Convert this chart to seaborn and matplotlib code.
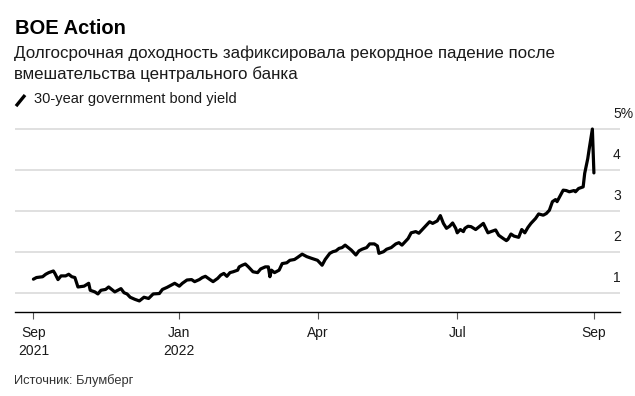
import numpy as np
import pandas as pd
import matplotlib
matplotlib.use('Agg')
import matplotlib.pyplot as plt
import matplotlib.transforms as mtransforms
from matplotlib.lines import Line2D
import seaborn as sns

# 30-year gilt yield
dates = [
    '2021-09-28', '2021-09-30', '2021-10-04', '2021-10-06', '2021-10-08', '2021-10-11',
    '2021-10-12', '2021-10-14', '2021-10-16', '2021-10-19', '2021-10-21', '2021-10-23',
    '2021-10-25', '2021-10-27', '2021-10-31', '2021-11-03', '2021-11-04', '2021-11-07',
    '2021-11-09', '2021-11-11', '2021-11-14', '2021-11-16', '2021-11-18', '2021-11-20',
    '2021-11-24', '2021-11-26', '2021-11-28', '2021-11-30', '2021-12-03', '2021-12-06',
    '2021-12-09', '2021-12-12', '2021-12-15', '2021-12-19', '2021-12-21', '2021-12-24',
    '2021-12-27', '2021-12-29', '2022-01-01', '2022-01-03', '2022-01-06', '2022-01-09',
    '2022-01-11', '2022-01-14', '2022-01-16', '2022-01-18', '2022-01-21', '2022-01-23',
    '2022-01-26', '2022-01-28', '2022-01-30', '2022-02-01', '2022-02-03', '2022-02-05',
    '2022-02-08', '2022-02-09', '2022-02-11', '2022-02-13', '2022-02-15', '2022-02-18',
    '2022-02-21', '2022-02-23', '2022-02-26', '2022-02-28', '2022-03-01', '2022-03-02',
    '2022-03-04', '2022-03-07', '2022-03-09', '2022-03-12', '2022-03-14', '2022-03-17',
    '2022-03-19', '2022-03-22', '2022-03-25', '2022-03-28', '2022-04-01', '2022-04-04',
    '2022-04-06', '2022-04-09', '2022-04-11', '2022-04-13', '2022-04-15', '2022-04-17',
    '2022-04-19', '2022-04-21', '2022-04-23', '2022-04-26', '2022-04-28', '2022-04-30',
    '2022-05-03', '2022-05-05', '2022-05-08', '2022-05-10', '2022-05-11', '2022-05-14',
    '2022-05-16', '2022-05-19', '2022-05-22', '2022-05-24', '2022-05-26', '2022-05-28',
    '2022-05-30', '2022-06-01', '2022-06-04', '2022-06-06', '2022-06-09', '2022-06-11',
    '2022-06-13', '2022-06-15', '2022-06-18', '2022-06-20', '2022-06-22', '2022-06-24',
    '2022-06-26', '2022-06-28', '2022-06-30', '2022-07-01', '2022-07-03', '2022-07-05',
    '2022-07-06', '2022-07-08', '2022-07-10', '2022-07-13', '2022-07-15', '2022-07-18',
    '2022-07-21', '2022-07-23', '2022-07-26', '2022-07-28', '2022-07-31', '2022-08-02',
    '2022-08-03', '2022-08-05', '2022-08-07', '2022-08-10', '2022-08-12', '2022-08-14',
    '2022-08-16', '2022-08-18', '2022-08-21', '2022-08-23', '2022-08-26', '2022-08-28',
    '2022-08-30', '2022-09-01', '2022-09-03', '2022-09-04', '2022-09-06', '2022-09-08',
    '2022-09-10', '2022-09-12', '2022-09-15', '2022-09-16', '2022-09-18', '2022-09-21',
    '2022-09-22', '2022-09-24', '2022-09-25', '2022-09-27', '2022-09-28',
]
yields = [
    1.34, 1.38, 1.40, 1.46, 1.50, 1.54,
    1.48, 1.33, 1.42, 1.42, 1.46, 1.40,
    1.38, 1.15, 1.17, 1.24, 1.07, 1.03,
    0.98, 1.07, 1.09, 1.15, 1.09, 1.03,
    1.11, 1.01, 0.98, 0.90, 0.85, 0.81,
    0.90, 0.87, 0.98, 0.99, 1.09, 1.14,
    1.20, 1.24, 1.17, 1.24, 1.32, 1.33,
    1.28, 1.33, 1.38, 1.41, 1.33, 1.28,
    1.36, 1.44, 1.48, 1.41, 1.50, 1.52,
    1.56, 1.64, 1.68, 1.71, 1.64, 1.52,
    1.50, 1.59, 1.64, 1.64, 1.40, 1.56,
    1.50, 1.56, 1.72, 1.74, 1.80, 1.82,
    1.87, 1.95, 1.89, 1.85, 1.80, 1.68,
    1.82, 1.97, 2.01, 2.03, 2.09, 2.11,
    2.17, 2.11, 2.05, 1.93, 2.03, 2.07,
    2.11, 2.20, 2.20, 2.15, 1.97, 2.01,
    2.07, 2.11, 2.20, 2.23, 2.17, 2.25,
    2.33, 2.47, 2.50, 2.46, 2.58, 2.66,
    2.74, 2.70, 2.76, 2.89, 2.70, 2.58,
    2.63, 2.71, 2.58, 2.47, 2.55, 2.50,
    2.58, 2.63, 2.62, 2.55, 2.61, 2.70,
    2.47, 2.50, 2.54, 2.41, 2.33, 2.28,
    2.31, 2.44, 2.39, 2.36, 2.55, 2.47,
    2.60, 2.70, 2.82, 2.93, 2.90, 2.94,
    3.02, 3.23, 3.28, 3.23, 3.37, 3.51,
    3.50, 3.47, 3.50, 3.47, 3.55, 3.59,
    3.92, 4.28, 4.53, 5.00, 3.93,
]

tick_dates = ['2021-09-28', '2022-01-01', '2022-04-01', '2022-07-01', '2022-09-28']
tick_labels = ['Sep\n2021', 'Jan\n2022', 'Apr', 'Jul', 'Sep']
y_ticks = [1, 2, 3, 4, 5]
y_labels = ['1', '2', '3', '4', '5%']

df = pd.DataFrame({'date': pd.to_datetime(dates), 'yield': yields})

sns.set_theme(style='white')
plt.rcParams['font.family'] = ['Liberation Sans', 'DejaVu Sans']

fig = plt.figure(figsize=(6.35, 3.96), dpi=100)
ax = fig.add_axes([0.0236, 0.2121, 0.9528, 0.4932])

sns.lineplot(data=df, x='date', y='yield', ax=ax, color='black', linewidth=2.3)

ax.set_xlim(pd.Timestamp('2021-09-16'), pd.Timestamp('2022-10-15'))
ax.set_ylim(0.54, 5.3)

# y labels sit above the gridlines on the right
ax.set_yticks(y_ticks)
ax.set_yticklabels([])
ax.tick_params(axis='y', length=0)
ax.grid(axis='y', color='#dddddd', linewidth=1.3)
ax.grid(axis='x', visible=False)

trans = mtransforms.offset_copy(ax.get_yaxis_transform(), fig=fig, x=-5, y=6, units='points')
for v, lab in zip(y_ticks, y_labels):
    ax.text(1.0, v, lab, transform=trans, ha='left', va='bottom',
            fontsize=10, color='#1a1a1a')

ax.set_xticks(pd.to_datetime(tick_dates))
ax.set_xticklabels(tick_labels, fontsize=10, color='#1a1a1a', linespacing=1.35)
ax.tick_params(axis='x', length=5, width=0.8, color='#555555', pad=5, bottom=True)

for side in ['top', 'right', 'left']:
    ax.spines[side].set_visible(False)
ax.spines['bottom'].set_color('black')
ax.spines['bottom'].set_linewidth(1.0)
ax.set_xlabel('')
ax.set_ylabel('')

fig.text(0.024, 0.914, 'BOE Action', fontsize=14.5, fontweight='bold', color='black')
fig.text(0.022, 0.8535, 'Долгосрочная доходность зафиксировала рекордное падение после',
         fontsize=12.2, color='#1a1a1a')
fig.text(0.022, 0.8005, 'вмешательства центрального банка', fontsize=12.2, color='#1a1a1a')
fig.add_artist(Line2D([0.0252, 0.0394], [0.732, 0.760], transform=fig.transFigure,
                      color='black', linewidth=2.4, solid_capstyle='butt'))
fig.text(0.054, 0.740, '30-year government bond yield', fontsize=10.5, color='#1a1a1a')
fig.text(0.022, 0.03, 'Источник: Блумберг', fontsize=9.3, color='#333333')

fig.savefig('out.png', dpi=100)
